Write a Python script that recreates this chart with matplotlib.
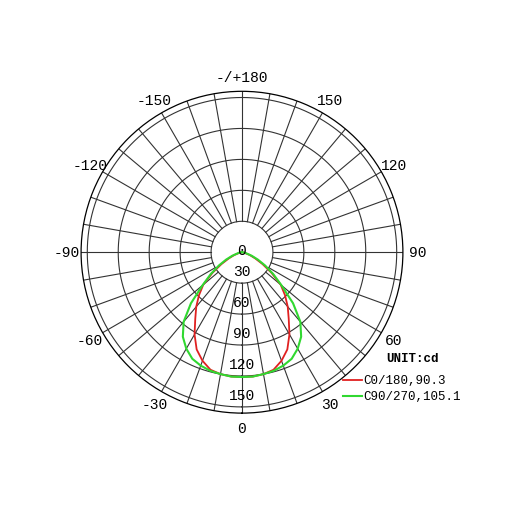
import numpy as np
import matplotlib
matplotlib.use("Agg")
from matplotlib import pyplot as plt

# gamma angle (deg from nadir) and intensity
red_gamma = [0, 5, 10, 15, 20, 25, 30, 35, 40, 45, 50, 55, 60, 65, 70, 80, 90]
red_cd = [121, 121, 120, 118, 112, 104, 92, 79, 69, 59, 49, 35, 23, 14, 8, 2, 0]
green_gamma = [0, 5, 10, 15, 20, 25, 30, 35, 40, 45, 50, 55, 60, 65, 70, 80, 90]
green_cd = [121, 121, 120, 119, 117, 114, 108, 100, 88, 70, 50, 37, 26, 17, 10, 3, 0]

ring_vals = [30, 60, 90, 120, 150]
angle_labels = [0, 30, 60, 90, 120, 150, 180, -150, -120, -90, -60, -30]
legend_names = ["C0/180,90.3", "C90/270,105.1"]
rmax = 156

plt.rcParams['font.family'] = ['Liberation Mono', 'DejaVu Sans']
fig = plt.figure(figsize=(5.1, 5.1), dpi=100)
ax = fig.add_axes([0.159, 0.188, 0.631, 0.631], projection='polar')
ax.set_theta_zero_location('S')
ax.set_theta_direction(1)
ax.set_ylim(0, rmax)
ax.grid(False)
ax.set_xticks([])
ax.set_yticks([])
ax.spines['polar'].set_linewidth(0.9)

t = np.linspace(0, 2*np.pi, 361)
for r in ring_vals:
    ax.plot(t, [r]*len(t), color='#333333', lw=0.8)
for a in range(0, 360, 10):
    ax.plot([np.radians(a)]*2, [30, rmax], color='#333333', lw=0.8)

def mirror(g, v):
    g = np.array(g, float); v = np.array(v, float)
    th = np.concatenate([-g[::-1], g[1:]])
    rr = np.concatenate([v[::-1], v[1:]])
    return np.radians(th), rr

th, rr = mirror(red_gamma, red_cd)
ax.plot(th, rr, color='#e02020', lw=1.3)
th, rr = mirror(green_gamma, green_cd)
ax.plot(th, rr, color='#30d830', lw=1.5)

for a in angle_labels:
    lab = "-/+180" if a == 180 else str(a)
    ax.text(np.radians(a), rmax + 14, lab, ha='center', va='center', fontsize=10.5)
ax.text(np.pi, 2, "0", ha='center', va='center', fontsize=10.5)
for r in ring_vals:
    ax.text(0, r - 5, str(r), ha='center', va='bottom', fontsize=10.5)

fig.text(0.758, 0.29, "UNIT:cd", fontsize=9, fontweight='bold')
fig.lines.append(plt.Line2D([0.672, 0.71], [0.253, 0.253], color='#e02020', lw=1.3, transform=fig.transFigure))
fig.lines.append(plt.Line2D([0.672, 0.71], [0.222, 0.222], color='#30d830', lw=1.5, transform=fig.transFigure))
fig.text(0.712, 0.253, legend_names[0], fontsize=9, va='center')
fig.text(0.712, 0.222, legend_names[1], fontsize=9, va='center')

fig.savefig("out.png", dpi=100, facecolor='white')
